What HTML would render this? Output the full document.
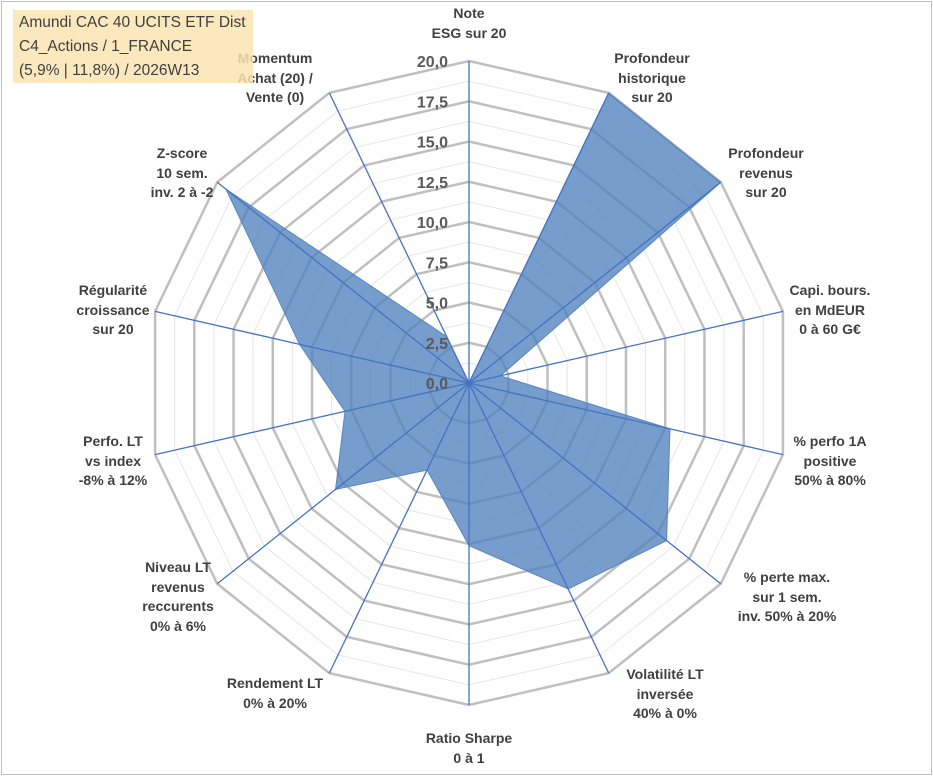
<!DOCTYPE html>
<html><head><meta charset="utf-8"><style>
body{margin:0;background:#fff;font-family:"Liberation Sans",sans-serif}
#wrap{position:relative;width:933px;height:776px;overflow:hidden}
#frame{position:absolute;left:1px;top:1px;width:929px;height:772px;border:1px solid #bfbfbf}
.lbl{position:absolute;transform:translateX(-50%);text-align:center;font-weight:bold;font-size:14px;line-height:19.6px;color:#404040;white-space:nowrap}
#title{position:absolute;left:13px;top:10px;width:240px;height:73px;background:rgba(252,228,178,0.85);font-size:15.5px;line-height:24px;color:#404040;padding:1px 0 0 6px;box-sizing:border-box}
</style></head><body>
<div id="wrap">
<div id="frame"></div>
<svg id="chart" width="933" height="776" style="position:absolute;left:0;top:0"></svg>
<div class="lbl" style="left:469px;top:4px">Note<br>ESG sur 20</div>
<div class="lbl" style="left:652px;top:49px">Profondeur<br>historique<br>sur 20</div>
<div class="lbl" style="left:766px;top:144px">Profondeur<br>revenus<br>sur 20</div>
<div class="lbl" style="left:830px;top:281px">Capi. bours.<br>en MdEUR<br>0 à 60 G€</div>
<div class="lbl" style="left:830px;top:432px">% perfo 1A<br>positive<br>50% à 80%</div>
<div class="lbl" style="left:787px;top:568px">% perte max.<br>sur 1 sem.<br>inv. 50% à 20%</div>
<div class="lbl" style="left:665px;top:665px">Volatilité LT<br>inversée<br>40% à 0%</div>
<div class="lbl" style="left:469px;top:729px">Ratio Sharpe<br>0 à 1</div>
<div class="lbl" style="left:275px;top:674px">Rendement LT<br>0% à 20%</div>
<div class="lbl" style="left:178px;top:558px">Niveau LT<br>revenus<br>reccurents<br>0% à 6%</div>
<div class="lbl" style="left:113px;top:432px">Perfo. LT<br>vs index<br>-8% à 12%</div>
<div class="lbl" style="left:113px;top:281px">Régularité<br>croissance<br>sur 20</div>
<div class="lbl" style="left:182px;top:144px">Z-score<br>10 sem.<br>inv. 2 à -2</div>
<div class="lbl" style="left:275px;top:49px">Momentum<br>Achat (20) /<br>Vente (0)</div>
<div id="title">Amundi CAC 40 UCITS ETF Dist<br>C4_Actions / 1_FRANCE<br>(5,9% | 11,8%) / 2026W13</div>
</div>
<script>
const categories=["Note ESG","Profondeur historique","Profondeur revenus","Capi. bours.","% perfo 1A","% perte max.","Volatilité LT","Ratio Sharpe","Rendement LT","Niveau LT","Perfo. LT","Régularité","Z-score","Momentum"];
const values=[0,20,20,2,12.8,15.7,14.2,10.1,6,10.6,7.9,10.8,19.3,3.2];
const tickValues=[0,2.5,5,7.5,10,12.5,15,17.5,20];
const tickLabels=["0,0","2,5","5,0","7,5","10,0","12,5","15,0","17,5","20,0"];
const NS="http://www.w3.org/2000/svg";
const svg=document.getElementById('chart');
const cx=469,cy=383,R=322,maxV=20,n=categories.length;
function r(v){return v/maxV*R;}
function pt(i,v){const a=i*2*Math.PI/n;return [cx+r(v)*Math.sin(a),cy-r(v)*Math.cos(a)];}
function add(tag,attrs){const e=document.createElementNS(NS,tag);for(const k in attrs)e.setAttribute(k,attrs[k]);svg.appendChild(e);return e;}
for(let k=0;k<8;k++){const v=1.25+k*2.5;const p=categories.map((c,i)=>pt(i,v).join(',')).join(' ');
const e=add('polygon',{points:p,fill:'none',stroke:'#e6e6e6','stroke-width':1});

}
tickValues.forEach(v=>{if(v===0)return;const p=categories.map((c,i)=>pt(i,v).join(',')).join(' ');
const e=add('polygon',{points:p,fill:'none',stroke:'#bfbfbf','stroke-width':2.5});

});
const poly=add('polygon',{points:values.map((v,i)=>pt(i,v).join(',')).join(' '),fill:'#4f81bd','fill-opacity':0.78,stroke:'#5a86bd','stroke-width':1});


categories.forEach((c,i)=>{const e=pt(i,maxV);const l=add('line',{x1:cx,y1:cy,x2:e[0],y2:e[1],stroke:'#4472c4','stroke-width':1.3});

});
tickValues.forEach((v,k)=>{const t=add('text',{x:448,y:cy-r(v)+6,'text-anchor':'end','font-size':16,'font-weight':'bold',fill:'#595959','font-family':'Liberation Sans, sans-serif'});t.textContent=tickLabels[k];

});
</script>
</body></html>
